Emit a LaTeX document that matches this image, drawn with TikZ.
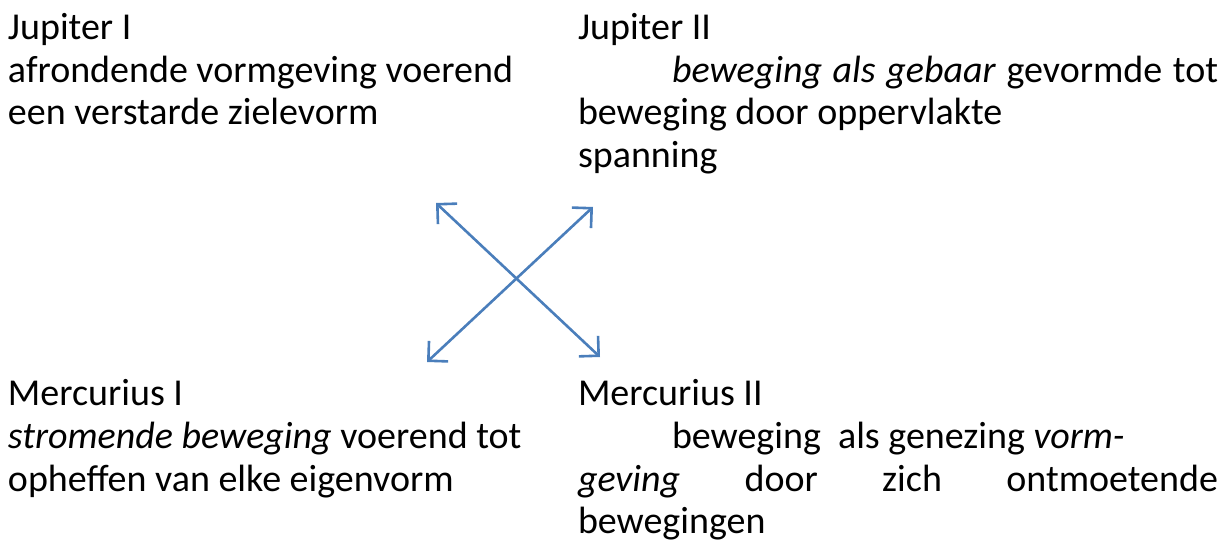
\documentclass[tikz,border=0pt]{standalone}
\usepackage{fontspec}
\setmainfont{Carlito}
\usetikzlibrary{arrows.meta}
\definecolor{arrowblue}{HTML}{4A7EBB}
\tikzset{
  txt/.style={anchor=base west, inner sep=0pt, outer sep=0pt, font=\fontsize{38}{42.5}\selectfont},
  arr/.style={draw=arrowblue, line width=2.6pt, line cap=round,
    {Straight Barb[length=14pt,width=28pt,line width=2.6pt]}-{Straight Barb[length=14pt,width=28pt,line width=2.6pt]}}
}
\begin{document}
\begin{tikzpicture}[x=1pt,y=-1pt]
\useasboundingbox (0,0) rectangle (1232,545);
% Jupiter I
\node[txt] (j1a) at (8,40) {Jupiter I};
\node[txt] (j1b) at (8,82.5) {afrondende vormgeving voerend};
\node[txt] (j1c) at (8,125) {een verstarde zielevorm};
% Jupiter II
\node[txt] (j2a) at (578,40) {Jupiter II};
\node[txt] (j2b) at (672,82.5) {\makebox[546pt][s]{\textit{beweging als gebaar} gevormde tot}};
\node[txt] (j2c) at (578,125) {beweging door oppervlakte};
\node[txt] (j2d) at (578,167.5) {spanning};
% Mercurius I
\node[txt] (m1a) at (8,406) {Mercurius I};
\node[txt] (m1b) at (8,448.5) {\textit{stromende beweging} voerend tot};
\node[txt] (m1c) at (8,491) {opheffen van elke eigenvorm};
% Mercurius II
\node[txt] (m2a) at (578,406) {Mercurius II};
\node[txt] (m2b) at (672,448.5) {beweging\ \ als genezing \textit{vorm-}};
\node[txt] (m2c) at (578,491) {\makebox[640pt][s]{\textit{geving} door zich ontmoetende}};
\node[txt] (m2d) at (578,533.5) {bewegingen};
% arrows
\coordinate (tl) at (436,203);
\coordinate (br) at (600,357);
\coordinate (tr) at (593,207);
\coordinate (bl) at (427,362);
\draw[arr] (tl) -- (br);
\draw[arr] (bl) -- (tr);
\end{tikzpicture}
\end{document}
